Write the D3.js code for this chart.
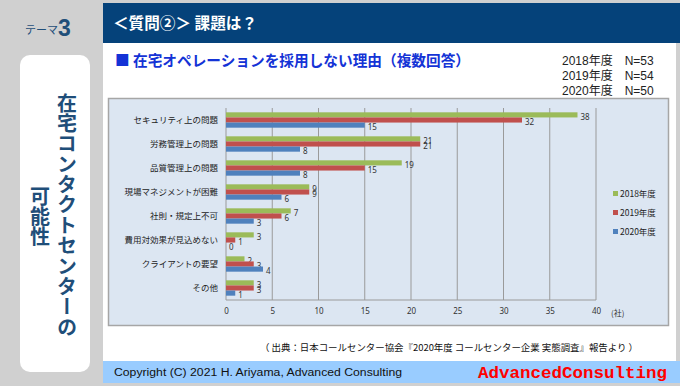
<!DOCTYPE html>
<html><head><meta charset="utf-8">
<script src="https://cdn.jsdelivr.net/npm/d3@7"></script>
<style>
html,body{margin:0;padding:0;background:#d0d0d0;}
svg{display:block;}
</style></head>
<body>
<svg id="c" width="680" height="386"></svg>
<script>
const categories = ["セキュリティ上の問題","労務管理上の問題","品質管理上の問題","現場マネジメントが困難","社則・規定上不可","費用対効果が見込めない","クライアントの要望","その他"];
const seriesNames = ["2018年度","2019年度","2020年度"];
const values2018 = [38,21,19,9,7,3,2,3];
const values2019 = [32,21,15,9,6,1,3,3];
const values2020 = [15,8,8,6,3,0,4,1];
const seriesColors = ["#9bbb59","#c0504d","#4f81bd"];
const xTicks = [0,5,10,15,20,25,30,35,40];
const nLabels = ["2018年度　N=53","2019年度　N=54","2020年度　N=50"];

const series = [values2018, values2019, values2020];
const svg = d3.select("#c");
const JP = "'Noto Sans CJK JP','Noto Sans',sans-serif";
const SANS = "'Liberation Sans',Arial,'Noto Sans CJK JP',sans-serif";

// background panels
svg.append("rect").attr("x",0).attr("y",0).attr("width",680).attr("height",386).attr("fill","#d0d0d0");
svg.append("rect").attr("x",103).attr("y",3).attr("width",577).attr("height",40).attr("fill","#05427a");
svg.append("rect").attr("x",103).attr("y",43).attr("width",573).attr("height",318).attr("fill","#ffffff");
svg.append("rect").attr("x",103).attr("y",361).attr("width",577).attr("height",22).attr("fill","#99ccff");
svg.append("rect").attr("x",20).attr("y",55).attr("width",70).attr("height",317).attr("rx",10).attr("fill","#ffffff");

// theme label
svg.append("text").attr("x",25).attr("y",34).attr("font-size",11).attr("fill","#1f4e79").style("font-family",JP).text("テーマ");
svg.append("text").attr("x",58).attr("y",36).attr("font-size",23).attr("font-weight","bold").attr("fill","#1f4e79")
  .style("font-family","'Liberation Sans',Arial,sans-serif").text("3");

// header
svg.append("text").attr("x",113).attr("y",29).attr("font-size",16).attr("font-weight","bold").attr("fill","#ffffff")
  .style("font-family",JP).attr("textLength",144).attr("lengthAdjust","spacingAndGlyphs").text("＜質問②＞ 課題は？");

// vertical texts
svg.append("text").attr("x",67).attr("y",93).attr("font-size",20).attr("font-weight","bold").attr("fill","#1f4e79")
  .style("font-family",JP).style("writing-mode","vertical-rl").attr("textLength",244).attr("lengthAdjust","spacing").text("在宅コンタクトセンターの");
svg.append("text").attr("x",40).attr("y",186).attr("font-size",20).attr("font-weight","bold").attr("fill","#1f4e79")
  .style("font-family",JP).style("writing-mode","vertical-rl").text("可能性");

// title
svg.append("text").attr("x",115).attr("y",66).attr("font-size",15).attr("font-weight","bold").attr("fill","#1433d6")
  .style("font-family",JP).attr("textLength",355).attr("lengthAdjust","spacingAndGlyphs").text("■ 在宅オペレーションを採用しない理由（複数回答）");

// N labels
nLabels.forEach((t,i)=>{
  svg.append("text").attr("x",562).attr("y",65+i*15).attr("font-size",12).attr("fill","#222")
    .style("font-family",SANS).text(t);
});

// chart box
svg.append("rect").attr("x",108.5).attr("y",98.5).attr("width",560).attr("height",227).attr("fill","#dce6f2").attr("stroke","#a6a6a6").attr("stroke-width",1.5);

const x = d3.scaleLinear().domain([0,40]).range([226,596]);
const y = d3.scaleBand().domain(categories).range([108,300]).paddingInner(0.36).paddingOuter(0.18);
const ys = d3.scaleBand().domain(seriesNames).range([0,y.bandwidth()]);

// gridlines
const g = svg.append("g");
g.selectAll("line.grid").data(xTicks).join("line")
  .attr("x1",d=>x(d)).attr("x2",d=>x(d)).attr("y1",108).attr("y2",300)
  .attr("stroke","#9a9a9a").attr("stroke-width",1);
g.append("line").attr("x1",x(0)).attr("x2",x(40)).attr("y1",300).attr("y2",300).attr("stroke","#9a9a9a");

// axis labels
const xAxis = d3.axisBottom(x).tickValues(xTicks).tickSize(0).tickPadding(0);
const ax = svg.append("g").attr("transform","translate(0,308)").call(xAxis);
ax.select(".domain").remove();
ax.selectAll("text").attr("font-size",8).attr("fill","#333").style("font-family","'Noto Sans',sans-serif");

const yAxis = d3.axisLeft(y).tickSize(0).tickPadding(8);
const ay = svg.append("g").attr("transform",`translate(${x(0)},0)`).call(yAxis);
ay.select(".domain").remove();
ay.selectAll("text").attr("font-size",8.5).attr("fill","#222").style("font-family",JP);

// bars
series.forEach((vals,si)=>{
  const sg = svg.append("g");
  sg.selectAll("rect").data(vals).join("rect")
    .attr("x",x(0)).attr("y",(d,i)=>y(categories[i])+ys(seriesNames[si]))
    .attr("width",d=>x(d)-x(0)).attr("height",ys.bandwidth())
    .attr("fill",seriesColors[si]);
  sg.selectAll("text").data(vals).join("text")
    .attr("x",d=>x(d)+3).attr("y",(d,i)=>y(categories[i])+ys(seriesNames[si])+ys.bandwidth()/2+5)
    .attr("font-size",8).attr("fill","#333").style("font-family","'Noto Sans',sans-serif").text(d=>d);
});

// legend
seriesNames.forEach((s,i)=>{
  const ly = 194 + i*19;
  svg.append("rect").attr("x",613).attr("y",ly-3).attr("width",5).attr("height",5).attr("fill",seriesColors[i]);
  svg.append("text").attr("x",620).attr("y",ly+3).attr("font-size",8.5).attr("fill","#222").style("font-family",JP).text(s);
});
svg.append("text").attr("x",611).attr("y",316).attr("font-size",8).attr("fill","#333").style("font-family",JP).text("(社)");

// source
svg.append("text").attr("x",260).attr("y",351).attr("font-size",9.5).attr("fill","#111").style("font-family",JP)
  .attr("textLength",378).attr("lengthAdjust","spacingAndGlyphs")
  .text("（ 出典：日本コールセンター協会『2020年度 コールセンター企業 実態調査』報告より ）");

// footer
svg.append("text").attr("x",114).attr("y",376).attr("font-size",10).attr("fill","#111")
  .style("font-family","'Liberation Sans',Arial,sans-serif")
  .attr("textLength",288).attr("lengthAdjust","spacingAndGlyphs")
  .text("Copyright (C) 2021  H. Ariyama, Advanced Consulting");
svg.append("text").attr("x",478).attr("y",378).attr("font-size",17).attr("font-weight","bold").attr("fill","#ff0000")
  .style("font-family","'Liberation Mono','DejaVu Sans Mono',monospace")
  .attr("textLength",189).attr("lengthAdjust","spacingAndGlyphs").text("AdvancedConsulting");
</script>
</body></html>
